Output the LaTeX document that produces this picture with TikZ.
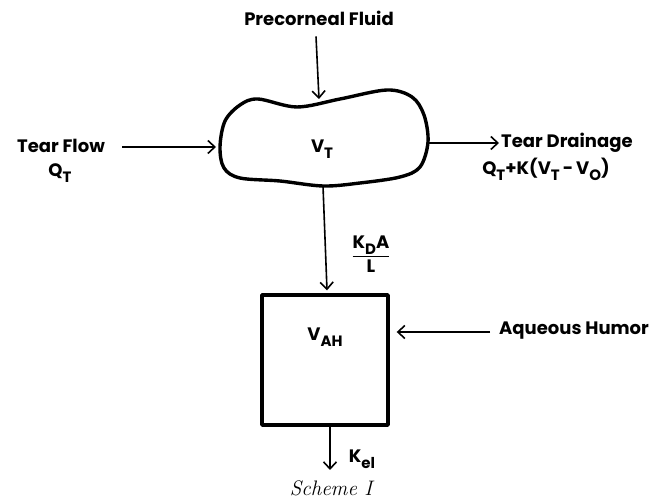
\documentclass[tikz,border=0pt]{standalone}
\usepackage{amsmath}
\usepackage{fontspec}
\setsansfont{Poppins}
\usepackage{tikz}
\usetikzlibrary{positioning, arrows.meta, calc}
\newcommand{\lowsub}[1]{\raisebox{-0.6ex}{\fontsize{15}{16}\selectfont #1}}

\begin{document}
\begin{tikzpicture}[x=1pt, y=-1pt,
    lbl/.style={font=\sffamily\bfseries\fontsize{18}{21}\selectfont, inner sep=1pt},
    flow/.style={-{Straight Barb[length=7pt, width=13pt]}, line width=1.6pt},
    wall/.style={line width=3.4pt, line join=round}]
  \useasboundingbox (0,0) rectangle (654,502);
  % tear film compartment
  \draw[wall] plot[smooth cycle, tension=0.55] coordinates {
      (220,147) (225,121) (240,105) (258,99) (297,107) (340,99) (387,90)
      (412,97) (424,115) (428,142) (420,167) (400,177) (360,183) (323,186)
      (280,181) (240,178) (224,168)};
  \coordinate (blobL) at (216,147);
  \coordinate (blobT) at (319,99);
  \coordinate (blobR) at (428,143);
  \coordinate (blobB) at (323,186);
  \node[lbl] (vt) at (322,149) {V\lowsub{T}};
  % aqueous humor compartment
  \node[draw, wall, minimum width=126pt, minimum height=130pt] (ah) at (325,360) {};
  \node[lbl] (vah) at (325,337) {V\lowsub{AH}};
  % inputs and outputs
  \node[lbl] (pre) at (319,18) {Precorneal Fluid};
  \draw[flow] (pre.south) ++(-3,10) -- (blobT);
  \node[lbl] (tflow) at (61,146) {Tear Flow};
  \node[lbl] (qt) at (60,173) {Q\lowsub{T}};
  \coordinate (tfStart) at (122,147);
  \draw[flow] (tfStart) -- (blobL);
  \coordinate (tdEnd) at (499,143);
  \draw[flow] (blobR) -- (tdEnd);
  \node[lbl, right=1pt of tdEnd] (tdrain) {Tear Drainage};
  \node[lbl] (tdform) at (546,169) {Q\lowsub{T}+K(V\lowsub{T}\,-\,V\lowsub{O})};
  \draw[flow] (blobB) -- ($(ah.north)+(2,-3)$);
  \node[lbl] (kda) at (371,254) {$\dfrac{\text{K\lowsub{D}A}}{\text{L}}$};
  \node[lbl, anchor=west] (aqh) at (498,331) {Aqueous Humor};
  \coordinate (aqStart) at (490,332);
  \draw[flow] (aqStart) -- ($(ah.east)+(7,-28)$);
  \coordinate (kelEnd) at (330,470);
  \draw[flow] (ah.south) ++(5,0) -- (kelEnd);
  \node[lbl] (kel) at (362,459) {K\lowsub{el}};
  \node[font=\itshape\fontsize{21}{24}\selectfont] (scheme) at (331,488) {Scheme I};
\end{tikzpicture}
\end{document}
